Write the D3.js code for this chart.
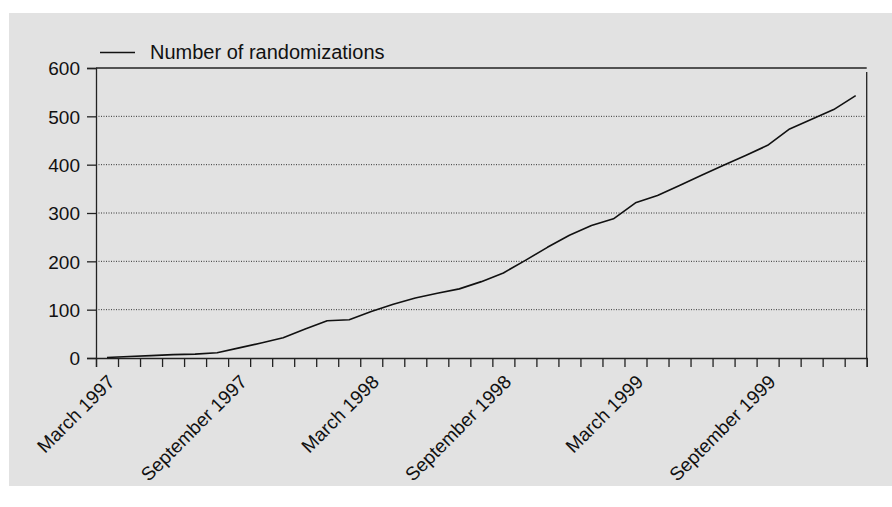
<!DOCTYPE html>
<html><head><meta charset="utf-8">
<script src="https://cdn.jsdelivr.net/npm/d3@7"></script>
<style>
html,body{margin:0;padding:0;background:#fff;}
svg{display:block;font-family:"Liberation Sans",Arial,Helvetica,sans-serif;}
</style></head>
<body><svg id="c" width="892" height="507"></svg>
<script>
// Monthly cumulative number of randomizations, Feb 1997 – Dec 1999
const months = ["Feb 1997","Mar 1997","Apr 1997","May 1997","Jun 1997","Jul 1997","Aug 1997","Sep 1997","Oct 1997","Nov 1997","Dec 1997",
  "Jan 1998","Feb 1998","Mar 1998","Apr 1998","May 1998","Jun 1998","Jul 1998","Aug 1998","Sep 1998","Oct 1998","Nov 1998","Dec 1998",
  "Jan 1999","Feb 1999","Mar 1999","Apr 1999","May 1999","Jun 1999","Jul 1999","Aug 1999","Sep 1999","Oct 1999","Nov 1999","Dec 1999"];
const randomizations = [1,3,5,7,8,11,21,31,42,60,77,
  79,96,111,124,134,143,158,176,202,229,254,274,
  288,321,336,357,378,399,419,440,474,494,514,543];
const tickLabels = ["March 1997","September 1997","March 1998","September 1998","March 1999","September 1999"];
const tickLabelMonths = ["Mar 1997","Sep 1997","Mar 1998","Sep 1998","Mar 1999","Sep 1999"];
const yTicks = [0,100,200,300,400,500,600];
const seriesName = "Number of randomizations";

const svg = d3.select("#c");
const L = 96, R = 866.7, T = 68, B = 358;
const nM = months.length; // 35 bands, 36 ticks
const x = d3.scaleLinear().domain([0, nM]).range([L, R]);
const y = d3.scaleLinear().domain([0, 600]).range([B, T]);

svg.append("rect").attr("x",9).attr("y",13).attr("width",883).attr("height",473).attr("fill","#e2e2e2");

// gridlines
svg.append("g").selectAll("line").data(yTicks.filter(d=>d>0 && d<600)).join("line")
  .attr("x1",L).attr("x2",R).attr("y1",d=>y(d)).attr("y2",d=>y(d))
  .attr("stroke","#333").attr("stroke-width",1).attr("stroke-dasharray","1,1.5");

// top and right frame
svg.append("line").attr("x1",L).attr("x2",R).attr("y1",y(600)).attr("y2",y(600)).attr("stroke","#222").attr("stroke-width",1.3);
svg.append("line").attr("x1",R).attr("x2",R).attr("y1",y(600)+4).attr("y2",B).attr("stroke","#222").attr("stroke-width",1.3);

// y axis
const yAxis = d3.axisLeft(y).tickValues(yTicks).tickSize(9).tickPadding(7);
const gy = svg.append("g").attr("transform",`translate(${L},0)`).call(yAxis);
gy.select(".domain").attr("stroke","#222").attr("stroke-width",1.3);
gy.selectAll(".tick line").attr("stroke","#222").attr("stroke-width",1.3);
gy.selectAll(".tick text").attr("font-size",19).attr("fill","#111").attr("font-family","Liberation Sans, Arial, sans-serif").attr("dy","0.36em");

// x axis
const xAxis = d3.axisBottom(x).tickValues(d3.range(0, nM+1)).tickSize(9).tickFormat(()=>"");
const gx = svg.append("g").attr("transform",`translate(0,${B})`).call(xAxis);
gx.select(".domain").attr("stroke","#222").attr("stroke-width",1.3);
gx.selectAll(".tick line").attr("stroke","#222").attr("stroke-width",1.3);

// x labels
svg.append("g").selectAll("text").data(tickLabels).join("text")
  .attr("transform",(d,i)=>`translate(${x(months.indexOf(tickLabelMonths[i]))-2},${B+25}) rotate(-45)`)
  .attr("text-anchor","end").attr("font-size",19).attr("fill","#111")
  .text(d=>d);

// line
const line = d3.line().x((d,i)=>x(i+0.5)).y(d=>y(d));
svg.append("path").datum(randomizations).attr("d",line)
  .attr("fill","none").attr("stroke","#111").attr("stroke-width",1.6).attr("stroke-linejoin","round");

// legend
svg.append("line").attr("x1",100).attr("x2",135).attr("y1",52.5).attr("y2",52.5).attr("stroke","#111").attr("stroke-width",1.3);
svg.append("text").attr("x",150).attr("y",59).attr("font-size",20).attr("fill","#111").text(seriesName);
</script></body></html>
